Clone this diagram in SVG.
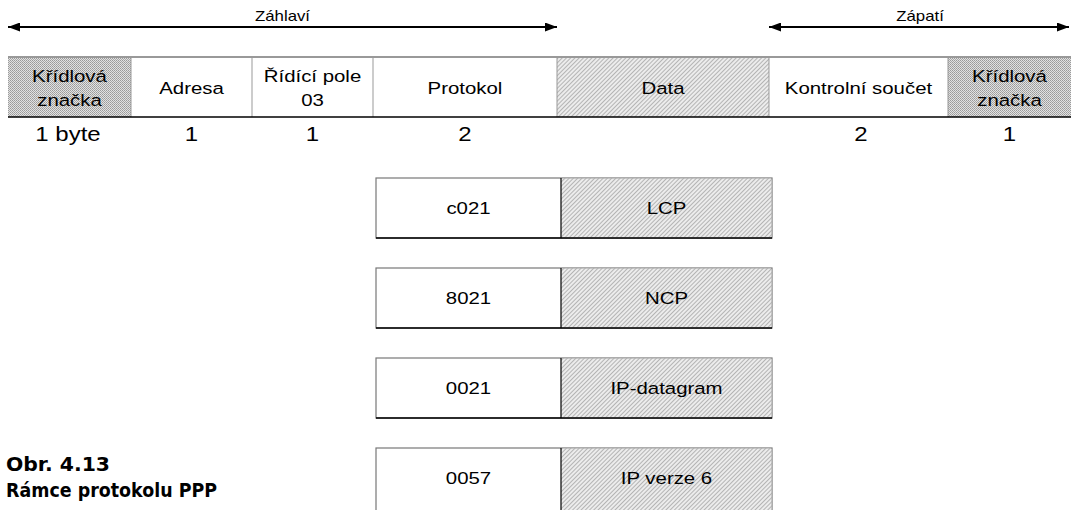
<svg xmlns="http://www.w3.org/2000/svg" width="1071" height="510" viewBox="0 0 1071 510">
<defs>
<pattern id="dots" width="2" height="2" patternUnits="userSpaceOnUse">
<rect width="2" height="2" fill="#e2e2e2"/>
<rect width="1" height="1" fill="#9a9a9a"/>
<rect x="1" y="1" width="1" height="1" fill="#a8a8a8"/>
</pattern>
<pattern id="hatch" width="3" height="3" patternUnits="userSpaceOnUse" patternTransform="rotate(45)">
<rect width="3" height="3" fill="#ececec"/>
<rect width="1" height="3" fill="#b4b4b4"/>
</pattern>
<marker id="ah" viewBox="0 0 12 9" refX="12" refY="4.5" markerWidth="12" markerHeight="9" markerUnits="userSpaceOnUse" orient="auto-start-reverse">
<path d="M0,0 L12,4.5 L0,9 z" fill="#000"/>
</marker>
</defs>
<style>
text{font-family:"Liberation Sans",Arial,sans-serif;fill:#000;text-anchor:middle}
.c{font-size:17px}
.n{font-size:20px}
.h{font-size:14px}
.cap{font-family:"DejaVu Sans","Liberation Sans",sans-serif;font-weight:bold;font-size:20px;text-anchor:start}
.sep{stroke:#999;stroke-width:1}
.topl{stroke:#999;stroke-width:2}
.botl{stroke:#000;stroke-width:1.5}
.arr{stroke:#000;stroke-width:2;fill:none;marker-start:url(#ah);marker-end:url(#ah)}
.bx{fill:#fff;stroke:#777;stroke-width:1.2}
.dv{stroke:#000;stroke-width:1.2}
</style>

<g id="connectors">
<line class="arr" x1="8" y1="27" x2="557" y2="27"/>
<line class="arr" x1="769" y1="27" x2="1069" y2="27"/>
</g>
<g id="label-zahlavi"><text class="h" transform="translate(282.5,21) scale(1.2,1)">Záhlaví</text></g>
<g id="label-zapati"><text class="h" transform="translate(920,21) scale(1.2,1)">Zápatí</text></g>

<g id="frame">
<rect x="8" y="57" width="123" height="60" fill="url(#dots)"/>
<rect x="557" y="57" width="212" height="60" fill="url(#hatch)"/>
<rect x="948" y="57" width="123" height="60" fill="url(#dots)"/>
<line class="sep" x1="131" y1="57" x2="131" y2="117"/>
<line class="sep" x1="252" y1="57" x2="252" y2="117"/>
<line class="sep" x1="373" y1="57" x2="373" y2="117"/>
<line class="sep" x1="557" y1="57" x2="557" y2="117"/>
<line class="sep" x1="769" y1="57" x2="769" y2="117"/>
<line class="sep" x1="948" y1="57" x2="948" y2="117"/>
<line class="topl" x1="8" y1="57" x2="1071" y2="57"/>
<line class="botl" x1="8" y1="117" x2="1071" y2="117"/>
</g>

<g id="f-flag1">
<text class="c" transform="translate(69.5,82) scale(1.2,1)">Křídlová</text>
<text class="c" transform="translate(69.5,106) scale(1.2,1)">značka</text>
<text class="n" transform="translate(68,141) scale(1.2,1)">1 byte</text>
</g>
<g id="f-adresa">
<text class="c" transform="translate(191.5,94) scale(1.2,1)">Adresa</text>
<text class="n" transform="translate(191.5,141) scale(1.2,1)">1</text>
</g>
<g id="f-ridici">
<text class="c" transform="translate(312.5,82) scale(1.2,1)">Řídící pole</text>
<text class="c" transform="translate(312.5,106) scale(1.2,1)">03</text>
<text class="n" transform="translate(312.5,141) scale(1.2,1)">1</text>
</g>
<g id="f-protokol">
<text class="c" transform="translate(465,94) scale(1.2,1)">Protokol</text>
<text class="n" transform="translate(465,141) scale(1.2,1)">2</text>
</g>
<g id="f-data">
<text class="c" transform="translate(663,94) scale(1.2,1)">Data</text>
</g>
<g id="f-kontrolni">
<text class="c" transform="translate(858.5,94) scale(1.2,1)">Kontrolní součet</text>
<text class="n" transform="translate(861,141) scale(1.2,1)">2</text>
</g>
<g id="f-flag2">
<text class="c" transform="translate(1009.5,82) scale(1.2,1)">Křídlová</text>
<text class="c" transform="translate(1009.5,106) scale(1.2,1)">značka</text>
<text class="n" transform="translate(1009.5,141) scale(1.2,1)">1</text>
</g>

<g id="box-lcp">
<rect class="bx" x="376" y="178" width="396" height="60"/>
<rect x="561" y="178.6" width="210.4" height="58.8" fill="url(#hatch)"/>
<line class="botl" x1="376" y1="238" x2="772" y2="238"/>
<line class="dv" x1="561" y1="178" x2="561" y2="238"/>
<text class="c" transform="translate(468.5,214) scale(1.2,1)">c021</text>
<text class="c" transform="translate(666.5,214) scale(1.2,1)">LCP</text>
</g>
<g id="box-ncp">
<rect class="bx" x="376" y="268" width="396" height="60"/>
<rect x="561" y="268.6" width="210.4" height="58.8" fill="url(#hatch)"/>
<line class="botl" x1="376" y1="328" x2="772" y2="328"/>
<line class="dv" x1="561" y1="268" x2="561" y2="328"/>
<text class="c" transform="translate(468.5,304) scale(1.2,1)">8021</text>
<text class="c" transform="translate(666.5,304) scale(1.2,1)">NCP</text>
</g>
<g id="box-ip">
<rect class="bx" x="376" y="358" width="396" height="60"/>
<rect x="561" y="358.6" width="210.4" height="58.8" fill="url(#hatch)"/>
<line class="botl" x1="376" y1="418" x2="772" y2="418"/>
<line class="dv" x1="561" y1="358" x2="561" y2="418"/>
<text class="c" transform="translate(468.5,394) scale(1.2,1)">0021</text>
<text class="c" transform="translate(666.5,394) scale(1.2,1)">IP-datagram</text>
</g>
<g id="box-ipv6">
<rect class="bx" x="376" y="448" width="396" height="64"/>
<rect x="561" y="448.6" width="210.4" height="62" fill="url(#hatch)"/>
<line class="dv" x1="561" y1="448" x2="561" y2="510"/>
<text class="c" transform="translate(468.5,484) scale(1.2,1)">0057</text>
<text class="c" transform="translate(666.5,484) scale(1.2,1)">IP verze 6</text>
</g>

<g id="caption">
<text class="cap" x="6" y="471" textLength="104" lengthAdjust="spacingAndGlyphs">Obr. 4.13</text>
<text class="cap" x="6" y="497" textLength="211" lengthAdjust="spacingAndGlyphs">Rámce protokolu PPP</text>
</g>
</svg>
